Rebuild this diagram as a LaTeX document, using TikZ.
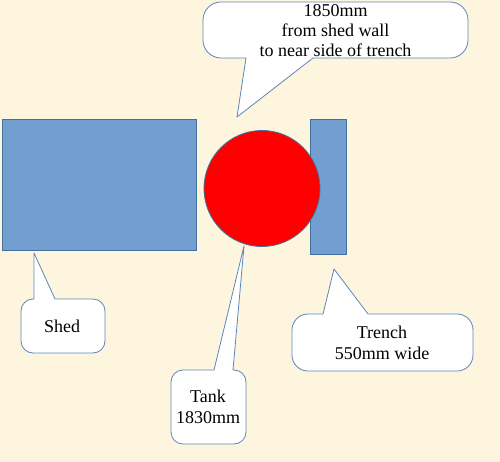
\documentclass[tikz,border=0pt]{standalone}
\usepackage{fontspec}
\setmainfont{Liberation Serif}
\definecolor{paper}{RGB}{253,245,221}
\definecolor{boxblue}{RGB}{114,159,207}
\definecolor{edgeblue}{RGB}{65,113,156}
\definecolor{calloutedge}{RGB}{91,135,188}
\tikzset{
  plan/.style={draw=edgeblue,fill=boxblue,line width=0.8pt,inner sep=0pt},
  bubble/.style={draw=calloutedge,fill=white,line width=0.8pt,line join=round},
  label/.style={align=center,font=\fontsize{18}{21}\selectfont,inner sep=0pt}
}
\begin{document}
\begin{tikzpicture}[x=1pt,y=-1pt]
  \fill[paper] (0,0) rectangle (500,462);
  \useasboundingbox (0,0) rectangle (500,462);

  % shed, trench and tank
  \node[plan,rectangle,minimum width=194pt,minimum height=131pt] (shed) at (99,184.5) {};
  \node[plan,rectangle,minimum width=36pt,minimum height=135pt] (trench) at (328,186.5) {};
  \node[plan,circle,fill=red,minimum size=116pt] (tank) at (262,188.5) {};

  % callouts
  \draw[bubble] (335,2) [rounded corners=18pt] -- (468,2) -- (468,58) [sharp corners] -- (313,58)
    -- (237,117) -- (246,58) [rounded corners=18pt] -- (203,58) -- (203,2) -- cycle;
  \draw[bubble] (63,353) [rounded corners=12pt] -- (21,353) -- (21,299) [sharp corners] -- (34,299)
    -- (34,253) -- (55,299) [rounded corners=12pt] -- (105,299) -- (105,353) -- cycle;
  \draw[bubble] (208,444) [rounded corners=12pt] -- (171,444) -- (171,370) [sharp corners] -- (214,370)
    -- (244,246) -- (233,370) [rounded corners=12pt] -- (246,370) -- (246,444) -- cycle;
  \draw[bubble] (382,371) [rounded corners=16pt] -- (292,371) -- (292,314) [sharp corners] -- (323,314)
    -- (334,269) -- (368,314) [rounded corners=16pt] -- (473,314) -- (473,371) -- cycle;

  \node[label,font=\fontsize{18}{20}\selectfont] (walltext) at (335.5,31) {1850mm\\from shed wall\\to near side of trench};
  \node[label] (shedtext) at (62,326) {Shed};
  \node[label] (tanktext) at (208,407) {Tank\\1830mm};
  \node[label] (trenchtext) at (382,342.5) {Trench\\550mm wide};
\end{tikzpicture}
\end{document}
